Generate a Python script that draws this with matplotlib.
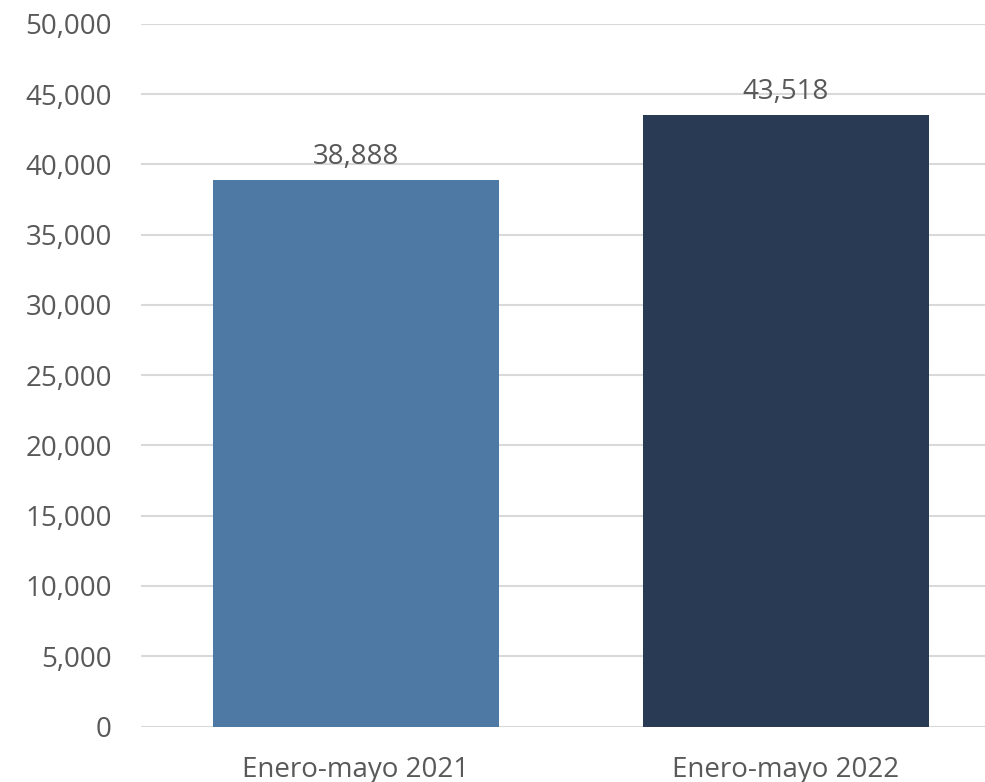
import matplotlib
matplotlib.use("Agg")
import matplotlib.pyplot as plt

categories = ["Enero-mayo 2021", "Enero-mayo 2022"]
values = [38888, 43518]
colors = ["#4e79a5", "#293b54"]
yticks = [0, 5000, 10000, 15000, 20000, 25000, 30000, 35000, 40000, 45000, 50000]

plt.rcParams['font.family'] = ['Open Sans', 'DejaVu Sans']
txt = '#595959'

fig = plt.figure(figsize=(9.85, 7.82), dpi=100)
W, H = 985, 782
# plot area runs past the right edge, as in the original crop
ax = fig.add_axes([141 / W, (H - 726.5) / H, 860 / W, (726.5 - 24) / H])

x = range(len(categories))
ax.bar(x, values, width=0.667, color=colors, zorder=3)
for i, v in enumerate(values):
    ax.text(i, v + 650, f"{v:,}", ha='center', va='bottom', fontsize=20, color=txt)

ax.set_xlim(-0.5, 1.5)
ax.set_ylim(0, 50000)
ax.set_yticks(yticks)
ax.set_yticklabels([f"{t:,}" for t in yticks])
ax.set_xticks(list(x))
ax.set_xticklabels(categories)
ax.tick_params(axis='both', length=0, labelsize=20, colors=txt)
ax.tick_params(axis='y', pad=21)
ax.tick_params(axis='x', pad=21)
ax.yaxis.grid(True, color='#d9d9d9', linewidth=1.5, zorder=0)
for s in ax.spines.values():
    s.set_visible(False)

fig.savefig("out.png", dpi=100)
